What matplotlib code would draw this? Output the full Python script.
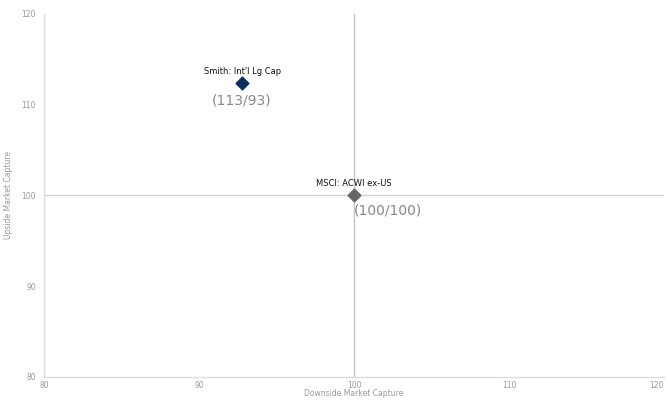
import matplotlib
matplotlib.use("Agg")
import matplotlib.pyplot as plt

names = ["Smith: Int'l Lg Cap", "MSCI: ACWI ex-US"]
downside = [92.8, 100.0]
upside = [112.4, 100.0]
capture_labels = ["(113/93)", "(100/100)"]
colors = ["#0d2f5e", "#666666"]

fig = plt.figure(figsize=(6.68, 4.0), dpi=100)
ax = fig.add_axes([0.066, 0.058, 0.928, 0.907])

ax.set_xlim(80, 120)
ax.set_ylim(80, 120)
ax.set_xticks([80, 90, 100, 110, 120])
ax.set_yticks([80, 90, 100, 110, 120])

# crosshair at 100/100
ax.axvline(100, color="#c4c4c4", lw=1, zorder=1)
ax.axhline(100, color="#d4d4d4", lw=1, zorder=1)

for sp in ["top", "right"]:
    ax.spines[sp].set_visible(False)
for sp in ["left", "bottom"]:
    ax.spines[sp].set_color("#dddddd")
    ax.spines[sp].set_linewidth(1)

ax.tick_params(length=0, labelsize=5.5, labelcolor="#999999")
ax.tick_params(axis="x", pad=3)
ax.tick_params(axis="y", pad=6)
ax.get_xticklabels()[-1].set_horizontalalignment("right")
ax.set_xlabel("Downside Market Capture", fontsize=5.5, color="#999999", labelpad=-1)
ax.set_ylabel("Upside Market Capture", fontsize=5.5, color="#999999", labelpad=6)

for i in range(len(names)):
    ax.scatter(downside[i], upside[i], marker="D", s=42, color=colors[i], zorder=3)
    ax.annotate(names[i], (downside[i], upside[i]), xytext=(0, 5), textcoords="offset points",
                ha="center", va="bottom", fontsize=6, color="#111111")

ax.annotate(capture_labels[0], (downside[0], upside[0]), xytext=(-1, -13), textcoords="offset points",
            ha="center", va="center", fontsize=10, color="#888888")
ax.annotate(capture_labels[1], (downside[1], upside[1]), xytext=(0, -11), textcoords="offset points",
            ha="left", va="center", fontsize=10, color="#888888")

fig.savefig("out.png", dpi=100)
